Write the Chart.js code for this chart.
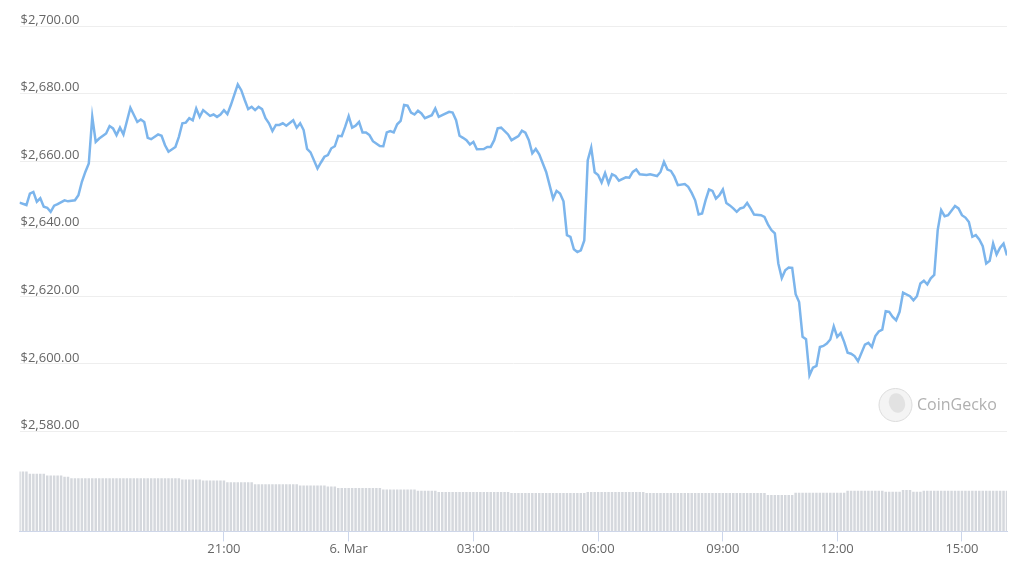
<!DOCTYPE html>
<html>
<head>
<meta charset="utf-8">
<script src="https://cdn.jsdelivr.net/npm/chart.js@4/dist/chart.umd.min.js"></script>
<style>
  html, body { margin: 0; padding: 0; background: #ffffff; }
  #wrap { width: 1024px; height: 571px; position: relative; }
</style>
</head>
<body>
<div id="wrap"><canvas id="c"></canvas></div>
<script>
// 5-minute slot index (ordinal axis, slot 0 = 16:05) of each price sample
const priceSlot = [
  0,2,3,4,5,6,7,8,9,10,11,13,14,16,17,18,19,20,21,22,23,25,26,27,28,29,30,32,34,35,36,37,38,40,41,42,43,45,46,47,
  48,49,50,51,52,53,55,56,57,58,59,60,61,63,64,65,66,67,68,69,70,71,72,73,74,75,76,77,79,80,81,82,83,84,86,87,88,89,90,91,
  92,93,94,95,96,97,98,99,100,101,102,104,105,106,107,108,109,110,111,112,113,114,115,116,117,119,120,121,122,124,125,126,127,128,129,130,
  131,132,134,135,136,137,138,139,141,142,144,145,146,147,148,149,150,152,154,155,156,157,158,159,160,161,162,163,164,165,166,167,168,169,
  170,171,172,173,175,176,177,178,179,181,182,184,185,186,187,188,189,190,192,193,194,195,196,197,198,199,200,201,202,203,204,205,206,207,
  208,209,210,211,212,214,215,216,217,218,219,220,221,222,223,224,225,226,227,228,229,230,231,232,233,234,235,236,237,238,239,240,241,242,
  244,245,246,247,248,249,250,251,252,253,254,255,257,258,259,260,261,262,263,264,265,266,267,268,270,271,272,273,274,275,276,277,278,279,
  280,281,282,283,284,285
];
// ETH price in USD
const price = [
  2647.7,2647.0,2650.4,2650.9,2648.0,2649.0,2646.5,2646.2,2645.0,2646.8,2647.3,2648.4,2648.1,2648.4,2649.9,2653.9,2656.8,2659.3,2673.1,2665.7,
  2666.7,2668.2,2670.4,2669.7,2667.7,2669.9,2667.9,2675.8,2671.6,2672.3,2671.6,2666.9,2666.5,2667.9,2667.5,2664.7,2662.8,2664.2,2667.2,2671.2,
  2671.4,2672.7,2672.1,2675.6,2673.1,2675.1,2673.4,2673.8,2673.1,2673.8,2675.1,2673.9,2676.6,2682.7,2681.0,2678.1,2675.4,2676.1,2675.1,2676.1,
  2675.4,2672.7,2671.2,2668.9,2670.7,2670.7,2671.2,2670.5,2672.1,2669.9,2671.2,2669.2,2663.6,2662.6,2657.8,2659.6,2661.3,2661.8,2663.8,2664.4,
  2667.5,2667.4,2670.2,2673.3,2669.9,2670.5,2671.6,2668.5,2668.5,2667.7,2665.9,2664.5,2664.4,2668.5,2668.9,2668.5,2670.9,2671.9,2676.6,2676.4,
  2674.4,2673.8,2674.9,2674.1,2672.7,2673.6,2675.6,2673.1,2673.6,2674.6,2674.4,2672.1,2667.5,2666.9,2666.2,2664.9,
  2665.7,2663.5,2663.6,2664.2,2664.2,2666.2,2669.7,2669.9,2667.9,2666.2,2667.4,2669.0,2668.4,2666.2,2662.3,2663.6,2662.0,2656.8,2648.9,2651.2,
  2650.4,2648.1,2638.1,2637.6,2633.9,2633.1,2633.6,2636.5,2660.3,2664.0,2656.7,2655.9,2653.7,2656.5,
  2653.4,2656.1,2655.6,2654.2,2655.2,2655.1,2656.8,2657.5,2656.1,2655.9,2656.1,2655.6,2656.8,2659.8,2657.5,2657.1,2655.4,2652.9,2653.2,2652.4,
  2650.6,2648.4,2644.2,2644.5,2648.4,2651.6,2651.2,2648.9,2649.9,2651.6,2647.6,2646.9,2646.0,2645.0,
  2646.0,2646.3,2647.6,2646.0,2644.2,2644.0,2643.5,2641.3,2639.6,2638.6,2629.7,2625.4,2627.7,2628.5,2628.4,2620.6,2618.3,2608.0,2607.3,2596.6,
  2598.9,2599.4,2605.0,2605.3,2606.0,2607.2,2611.1,2608.0,2609.1,2606.5,2603.3,2603.0,2602.3,2600.8,
  2605.7,2606.2,2605.0,2608.2,2609.6,2610.1,2615.6,2615.4,2613.9,2612.9,2615.4,2621.1,2620.0,2618.8,2620.0,2623.8,2624.6,2623.5,2625.3,2626.3,
  2639.6,2645.5,2643.7,2644.0,2646.7,2646.0,2644.0,2643.3,2642.0,2637.6,2638.1,2636.8,2634.8,2629.7,
  2630.5,2635.6,2632.4,2634.4,2635.6,2632.1
];
// volume (billions USD), one per 5-minute slot 0..285
const volume = [
  17.8,17.8,17.8,17.1,17.1,17.1,17.1,17.1,16.6,16.6,16.6,16.6,16.6,16.2,16.2,
  15.8,15.8,15.8,15.8,15.8,15.8,15.8,15.8,15.8,15.8,15.8,15.8,15.8,15.8,15.8,15.8,
  15.8,15.8,15.8,15.8,15.8,15.8,15.8,15.8,15.8,15.8,15.8,15.8,15.8,15.8,15.8,15.8,
  15.4,15.4,15.4,15.4,15.4,15.4,15.1,15.1,15.1,15.1,15.1,15.1,15.1,
  14.6,14.6,14.6,14.6,14.6,14.6,14.6,14.6,
  14.0,14.0,14.0,14.0,14.0,14.0,14.0,14.0,14.0,14.0,14.0,14.0,14.0,
  13.6,13.6,13.6,13.6,13.6,13.6,13.6,13.6,13.3,13.3,13.3,
  12.9,12.9,12.9,12.9,12.9,12.9,12.9,12.9,12.9,12.9,12.9,12.9,12.9,
  12.4,12.4,12.4,12.4,12.4,12.4,12.4,12.4,12.4,12.4,12.1,12.1,12.1,12.1,12.1,12.1,
  11.7,11.7,11.7,11.7,11.7,11.7,11.7,11.7,11.7,11.7,11.7,11.7,11.7,11.7,11.7,11.7,11.7,11.7,11.7,11.7,11.7,
  11.4,11.4,11.4,11.4,11.4,11.4,11.4,11.4,11.4,11.4,11.4,11.4,11.4,11.4,11.4,11.4,11.4,11.4,11.4,11.4,11.4,11.4,
  11.7,11.7,11.7,11.7,11.7,11.7,11.7,11.7,11.7,11.7,11.7,11.7,11.7,11.7,11.7,11.7,11.7,
  11.4,11.4,11.4,11.4,11.4,11.4,11.4,11.4,11.4,11.4,11.4,11.4,11.4,11.4,11.4,11.4,11.4,11.4,
  11.4,11.4,11.4,11.4,11.4,11.4,11.4,11.4,11.4,11.4,11.4,11.4,11.4,11.4,11.4,11.4,11.4,
  10.8,10.8,10.8,10.8,10.8,10.8,10.8,10.8,
  11.5,11.5,11.5,11.5,11.5,11.5,11.5,11.5,11.5,11.5,11.5,11.5,11.5,11.5,11.5,
  12.1,12.1,12.1,12.1,12.1,12.1,12.1,12.1,12.1,12.1,12.1,
  11.8,11.8,11.8,11.8,11.8,12.3,12.3,12.3,11.8,11.8,11.8,
  12.1,12.1,12.1,12.1,12.1,12.1,12.1,12.1,12.1,12.1,12.1,12.1,12.1,
  12.1,12.1,12.1,12.1,12.1,12.1,12.1,12.1,12.1,12.1,12.1,12.1
];
// x-axis ticks (slot index) and their labels
const tickSlots = [59, 95, 131, 167, 203, 236, 272];
const tickLabels = ['21:00', '6. Mar', '03:00', '06:00', '09:00', '12:00', '15:00'];
// y-axis price ticks
const priceTicks = [2580, 2600, 2620, 2640, 2660, 2680, 2700];

const watermark = {
  id: 'watermark',
  afterDraw(chart) {
    const ctx = chart.ctx;
    ctx.save();
    ctx.beginPath();
    ctx.arc(895.5, 405, 16.5, 0, Math.PI * 2);
    ctx.fillStyle = '#f4f4f4';
    ctx.fill();
    ctx.lineWidth = 1;
    ctx.strokeStyle = '#dcdcdc';
    ctx.stroke();
    ctx.beginPath();
    ctx.ellipse(897, 403, 8, 10, -0.3, 0, Math.PI * 2);
    ctx.fillStyle = '#e2e2e2';
    ctx.fill();
    ctx.fillStyle = '#b0b0b0';
    ctx.font = '16px "Open Sans", sans-serif';
    ctx.textBaseline = 'middle';
    ctx.textAlign = 'left';
    ctx.fillText('CoinGecko', 917, 405);
    ctx.restore();
  }
};

const fmt = v => '$' + v.toLocaleString('en-US', { minimumFractionDigits: 2, maximumFractionDigits: 2 });

new Chart(document.getElementById('c'), {
  type: 'line',
  data: {
    datasets: [
      {
        type: 'line',
        data: priceSlot.map((s, i) => ({ x: s, y: price[i] })),
        yAxisID: 'y',
        borderColor: '#7cb5ec',
        borderWidth: 2.5,
        pointRadius: 0,
        tension: 0,
        fill: false,
        order: 0
      },
      {
        type: 'bar',
        data: volume.map((v, i) => ({ x: i, y: v })),
        yAxisID: 'yv',
        backgroundColor: '#d5d8dd',
        borderWidth: 0,
        barPercentage: 1,
        categoryPercentage: 0.72,
        order: 1
      }
    ]
  },
  options: {
    responsive: true,
    maintainAspectRatio: false,
    animation: false,
    layout: { padding: { left: 17.5, right: 17, top: 26, bottom: 14 } },
    plugins: { legend: { display: false }, tooltip: { enabled: false } },
    scales: {
      x: {
        type: 'linear',
        min: 0,
        max: 285,
        offset: false,
        afterBuildTicks: axis => { axis.ticks = tickSlots.map(v => ({ value: v })); },
        ticks: {
          callback: v => tickLabels[tickSlots.indexOf(v)],
          color: '#666666',
          font: { family: '"Open Sans", sans-serif', size: 13 },
          padding: 0,
          maxRotation: 0,
          autoSkip: false
        },
        grid: { offset: false, drawOnChartArea: false, drawTicks: true, tickLength: 10, color: '#ccd6eb' },
        border: { display: true, color: '#ccd6eb', width: 1 }
      },
      y: {
        type: 'linear',
        position: 'left',
        min: 2550.4,
        max: 2700,
        afterBuildTicks: axis => { axis.ticks = priceTicks.map(v => ({ value: v })); },
        ticks: {
          mirror: true,
          padding: 1,
          labelOffset: -6,
          callback: v => fmt(v),
          color: '#666666',
          font: { family: '"Open Sans", sans-serif', size: 13 }
        },
        grid: { color: '#eeeeee', drawTicks: false },
        border: { display: false }
      },
      yv: {
        type: 'linear',
        position: 'right',
        display: false,
        min: 0,
        max: 150
      }
    }
  },
  plugins: [watermark]
});
</script>
</body>
</html>
